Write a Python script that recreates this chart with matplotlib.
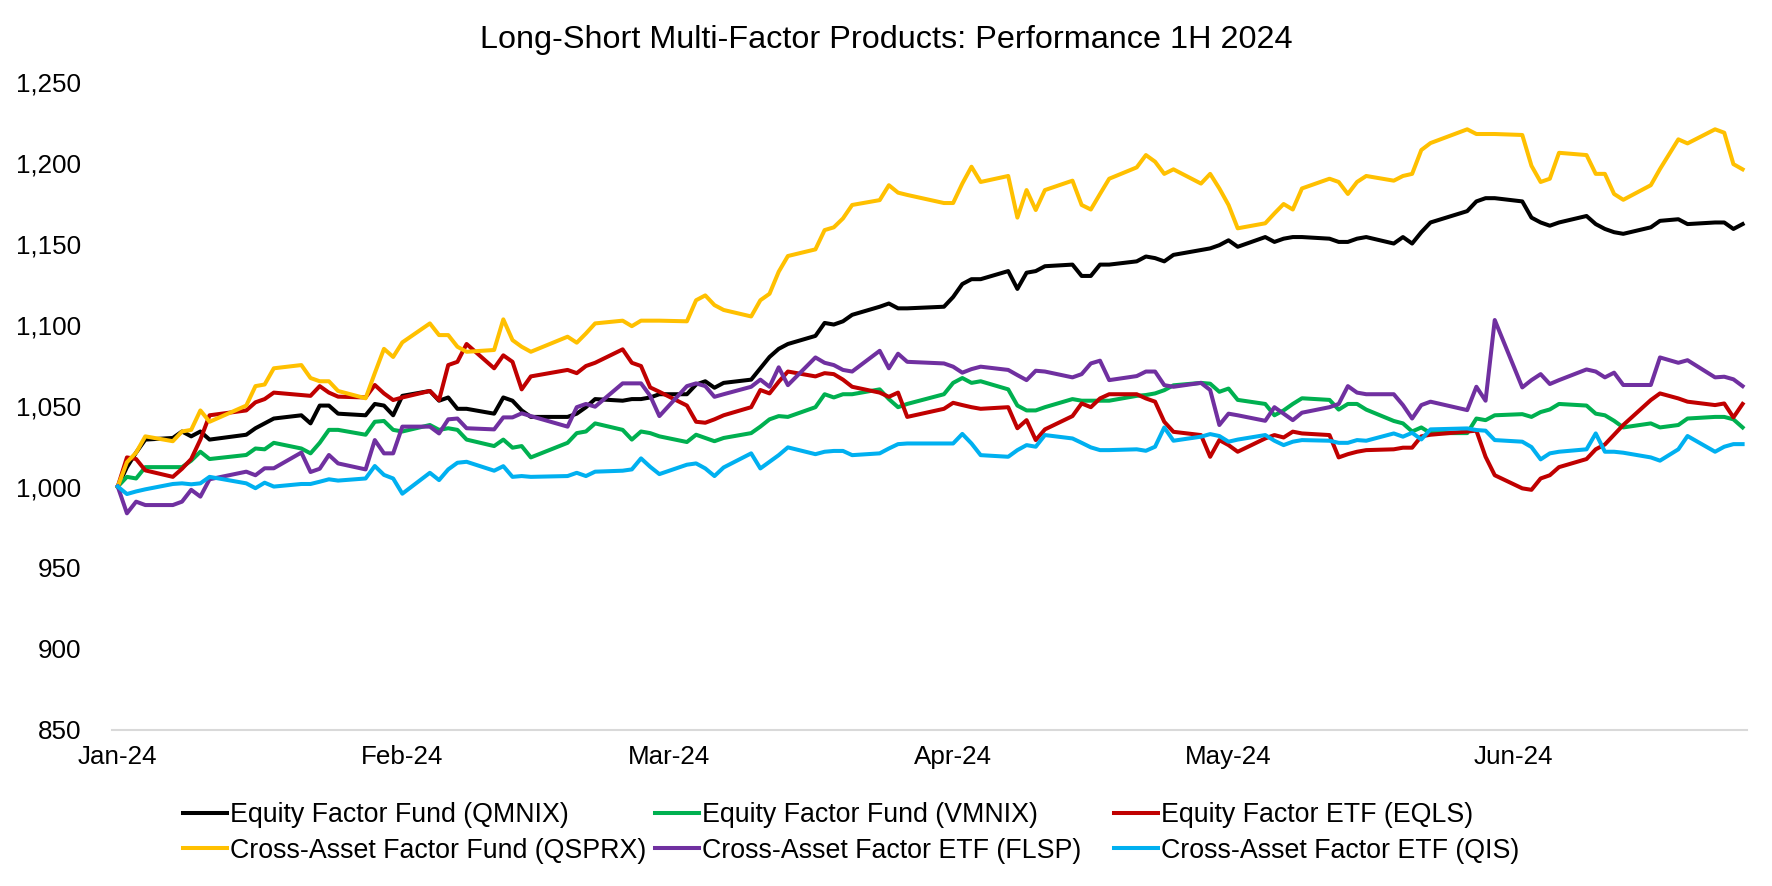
import matplotlib
matplotlib.use("Agg")
import matplotlib.pyplot as plt
import matplotlib.dates as mdates
from matplotlib.ticker import FuncFormatter
import pandas as pd

# trading days per month (2024)
jan_days = [2, 3, 4, 5, 8, 9, 10, 11, 12, 16, 17, 18, 19, 22, 23, 24, 25, 26, 29, 30, 31]
feb_days = [1, 2, 5, 6, 7, 8, 9, 12, 13, 14, 15, 16, 20, 21, 22, 23, 26, 27, 28, 29]
mar_days = [1, 4, 5, 6, 7, 8, 11, 12, 13, 14, 15, 18, 19, 20, 21, 22, 25, 26, 27, 28]
apr_days = [1, 2, 3, 4, 5, 8, 9, 10, 11, 12, 15, 16, 17, 18, 19, 22, 23, 24, 25, 26, 29, 30]
may_days = [1, 2, 3, 6, 7, 8, 9, 10, 13, 14, 15, 16, 17, 20, 21, 22, 23, 24, 28, 29, 30, 31]
jun_days = [3, 4, 5, 6, 7, 10, 11, 12, 13, 14, 17, 18, 20, 21, 24, 25, 26, 27]

qmnix = [1000, 1012, 1021, 1029, 1030, 1034, 1031, 1034, 1029, 1032, 1036, 1039, 1042, 1044, 1039, 1050, 1050, 1045, 1044, 1051, 1050,
         1044, 1056, 1059, 1053, 1055, 1048, 1048, 1045, 1055, 1053, 1047, 1043, 1043, 1045, 1049, 1054, 1053, 1054, 1054, 1055,
         1057, 1057, 1063, 1065, 1061, 1064, 1066, 1073, 1080, 1085, 1088, 1093, 1101, 1100, 1102, 1106, 1111, 1113, 1110, 1110,
         1111, 1117, 1125, 1128, 1128, 1133, 1122, 1132, 1133, 1136, 1137, 1130, 1130, 1137, 1137, 1139, 1142, 1141, 1139, 1143, 1146, 1147,
         1149, 1152, 1148, 1154, 1151, 1153, 1154, 1154, 1153, 1151, 1151, 1153, 1154, 1150, 1154, 1150, 1157, 1163, 1170, 1176, 1178, 1178,
         1176, 1166, 1163, 1161, 1163, 1167, 1162, 1159, 1157, 1156, 1160, 1164, 1165, 1162, 1163, 1163, 1159, 1162]

vmnix = [1000, 1006, 1005, 1012, 1012, 1012, 1016, 1021.5, 1017, 1019.5, 1023.5, 1023, 1027, 1023.5, 1020.5, 1027, 1035, 1035, 1032, 1040, 1040.5,
         1035, 1034, 1038, 1035, 1036, 1035, 1029, 1025, 1029, 1024, 1025, 1018, 1027, 1033, 1034, 1039, 1035, 1029, 1034, 1033,
         1031, 1027.5, 1032, 1030, 1028, 1030, 1033, 1037, 1041.5, 1043.5, 1043, 1049, 1057, 1055, 1057, 1057, 1060, 1054, 1049, 1051,
         1057, 1064, 1067, 1064, 1065, 1060, 1050, 1047, 1047, 1049, 1054, 1053, 1053, 1053, 1053, 1056, 1056.5, 1057.5, 1059.5, 1062.5, 1064, 1063.5,
         1058.5, 1060.5, 1053.5, 1051, 1044, 1047, 1051, 1054.5, 1053.5, 1047.5, 1051, 1051, 1047.5, 1040.5, 1039, 1034, 1036.5, 1033, 1033, 1042, 1041, 1044,
         1044.7, 1043, 1046, 1047.6, 1051, 1050, 1045, 1044, 1040.6, 1036.5, 1039, 1036.5, 1038, 1042, 1043, 1043, 1041.5, 1036.5]

eqls = [1000, 1018, 1017, 1010, 1006, 1011, 1017, 1029, 1044, 1047, 1052, 1054, 1058, 1056.5, 1056, 1062, 1058, 1055.5, 1055, 1062.7, 1057.5,
        1053.4, 1055, 1059, 1053.4, 1075, 1077, 1088, 1073, 1081, 1077, 1060, 1068, 1072, 1070, 1074.4, 1076.4, 1084.7, 1076.4, 1074.4, 1061.2,
        1058.5, 1050, 1040, 1039.4, 1041.5, 1044, 1049, 1059.6, 1057.5, 1064.7, 1071, 1068, 1070, 1069.4, 1066, 1061.6, 1058, 1055.4, 1058, 1043,
        1048, 1051.7, 1050.3, 1049, 1048, 1049, 1036, 1041, 1028.7, 1035.3, 1043.5, 1051.3, 1049, 1054.4, 1057, 1057, 1054.4, 1052.4, 1040, 1033.8, 1031.8, 1018.4,
        1028.7, 1025.6, 1021.5, 1029.7, 1031.8, 1030.3, 1033.9, 1032.8, 1031.8, 1018, 1020, 1021.5, 1022.5, 1023, 1024, 1024, 1031, 1032, 1034, 1034.5, 1018.4, 1007,
        998.9, 998, 1005, 1007, 1012, 1017, 1023, 1026, 1032, 1038, 1053.4, 1057.5, 1054.4, 1052.4, 1050.3, 1051.3, 1042.7, 1051]

qsprx = [1000, 1015, 1021, 1031, 1028, 1034, 1035, 1047, 1040, 1050, 1062, 1063, 1073, 1075, 1067, 1065, 1065, 1059, 1054.5, 1070, 1085,
         1080, 1089, 1100.7, 1093.5, 1093.5, 1086.3, 1083.2, 1084.3, 1103.2, 1090.4, 1086.3, 1083.2, 1092.5, 1088.8, 1094.5, 1100.7, 1102.4, 1099, 1102.4, 1102.4,
         1102.4, 1102, 1115, 1118, 1112, 1109, 1105, 1115, 1119, 1132.6, 1142.3, 1146.4, 1158.3, 1160, 1165.5, 1173.8, 1176.8, 1186, 1181.4, 1180,
         1175, 1175, 1187, 1197.4, 1188, 1191.7, 1166, 1183, 1170.7, 1183, 1188.8, 1173.8, 1171, 1180.6, 1190, 1197, 1204.6, 1200.5, 1193, 1195.8, 1187, 1193,
         1184, 1173.8, 1159.4, 1162.5, 1168.6, 1174.4, 1171, 1184, 1190, 1188, 1180.6, 1188, 1191.7, 1188.8, 1191.7, 1193, 1207.7, 1212, 1220.5, 1217.6, 1217.6, 1217.6,
         1217, 1198, 1188, 1190, 1206, 1204.6, 1193, 1193, 1180.6, 1177, 1186, 1196, 1214.3, 1211.8, 1220.5, 1218.4, 1199, 1195.8]

flsp = [1000, 983.5, 990.7, 988.6, 988.6, 990.7, 998, 993.8, 1004.5, 1009.2, 1007, 1011.3, 1011.3, 1021, 1009, 1011, 1019.5, 1014.3, 1010.6, 1028.7, 1020.5,
        1020.5, 1037, 1037, 1032.8, 1041.5, 1042, 1036, 1035.3, 1042.7, 1042.7, 1045.2, 1043.5, 1037, 1049, 1051, 1049.3, 1063.7, 1063.7, 1063.7, 1056,
        1043.5, 1062, 1063.7, 1062, 1055.4, 1057, 1061.6, 1066, 1061.6, 1073.6, 1062.6, 1079.7, 1076.4, 1075, 1072, 1071, 1083.8, 1073, 1082, 1077,
        1076, 1074, 1070.3, 1072.5, 1074, 1072, 1068.8, 1065.7, 1071.5, 1071, 1067.4, 1069.4, 1076, 1077.7, 1065.7, 1068.2, 1071, 1071, 1062.6, 1061.6, 1064, 1059.6,
        1038, 1045, 1044, 1040.6, 1049, 1045, 1041, 1045.6, 1049, 1051, 1062, 1058, 1057, 1057, 1050.3, 1042, 1050.3, 1052.4, 1047.2, 1061.6, 1053, 1102.8,
        1061.2, 1065.7, 1069.4, 1063.3, 1065.7, 1072.3, 1071, 1067.4, 1070.3, 1062.7, 1062.7, 1079.7, 1076.4, 1078, 1067.4, 1067.8, 1066.2, 1062]

qis = [1000, 995.4, 997, 998.3, 1001.6, 1002, 1001.4, 1002, 1006, 1002, 999, 1002.4, 1000, 1001.6, 1001.6, 1003, 1004.5, 1003.7, 1005, 1012.7, 1007.2,
       1005, 995.6, 1008.5, 1004, 1010.6, 1014.7, 1015.3, 1009.8, 1012.6, 1006, 1006.5, 1006, 1006.5, 1008.5, 1006.5, 1009.2, 1009.8, 1010.6, 1017.4, 1012.2,
       1007.7, 1013.5, 1014.3, 1011.2, 1006.5, 1011.8, 1020.5, 1011.2, 1015.3, 1019.4, 1024.2, 1020, 1021.5, 1022, 1022, 1019.4, 1020.5, 1023.5, 1026.2, 1026.6,
       1026.6, 1026.6, 1032.5, 1026.6, 1019.4, 1018.4, 1022.5, 1025.6, 1024.6, 1031.8, 1029.7, 1027, 1024.2, 1022.5, 1022.5, 1023, 1022.1, 1024.6, 1036.5, 1028.3, 1030.8, 1032.4,
       1031.2, 1027.7, 1029, 1031.8, 1028.3, 1025.6, 1027.7, 1028.7, 1028.3, 1027, 1027, 1028.7, 1028.3, 1032.8, 1030.8, 1033.2, 1029.1, 1035.3, 1035.9, 1034.9, 1034.5, 1028.7,
       1027.7, 1024.4, 1016.8, 1020.5, 1021.5, 1023, 1032.8, 1021.5, 1021.5, 1020.9, 1018, 1016, 1023, 1031.2, 1021.5, 1024.6, 1026.2, 1026.2]

labels = ["Equity Factor Fund (QMNIX)", "Equity Factor Fund (VMNIX)", "Equity Factor ETF (EQLS)",
          "Cross-Asset Factor Fund (QSPRX)", "Cross-Asset Factor ETF (FLSP)", "Cross-Asset Factor ETF (QIS)"]
colors = ["#000000", "#00B050", "#C00000", "#FFC000", "#7030A0", "#00B0F0"]
y_ticks = [850, 900, 950, 1000, 1050, 1100, 1150, 1200, 1250]

month_days = [jan_days, feb_days, mar_days, apr_days, may_days, jun_days]
dates = [pd.Timestamp(2024, m, d) for m, days in enumerate(month_days, start=1) for d in days]
series = [qmnix, vmnix, eqls, qsprx, flsp, qis]

plt.rcParams['font.family'] = ['Liberation Sans', 'DejaVu Sans']

fig = plt.figure(figsize=(17.72, 8.86), dpi=100)
ax = fig.add_axes([0.0630, 0.1765, 0.9230, 0.7315])

handles = []
for vals, lab, col in zip(series, labels, colors):
    h, = ax.plot(dates, vals, color=col, linewidth=2.9, label=lab)
    handles.append(h)

ax.set_ylim(850, 1250)
ax.set_yticks(y_ticks)
ax.yaxis.set_major_formatter(FuncFormatter(lambda v, p: f"{v:,.0f}"))
ax.set_xlim(pd.Timestamp(2024, 1, 1, 8), pd.Timestamp(2024, 6, 27, 12))
ax.set_xticks([pd.Timestamp(2024, m, 2) for m in range(1, 7)])
ax.xaxis.set_major_formatter(mdates.DateFormatter('%b-%y'))

for s in ['top', 'right', 'left']:
    ax.spines[s].set_visible(False)
ax.spines['bottom'].set_color('#D9D9D9')
ax.spines['bottom'].set_linewidth(1.5)
ax.tick_params(axis='both', length=0, labelsize=18.7)
ax.tick_params(axis='y', pad=22)
ax.tick_params(axis='x', pad=11)

fig.text(0.5, 0.946, "Long-Short Multi-Factor Products: Performance 1H 2024",
         fontsize=23.3, ha='center', va='baseline')

# legend: 3 columns, 2 rows (row-major order as in the reference)
col_x = [0.1033, 0.3696, 0.6285]
for c in range(3):
    fig.legend([handles[c], handles[c + 3]], [labels[c], labels[c + 3]],
               loc='center left', bbox_to_anchor=(col_x[c], 0.0598), frameon=False,
               fontsize=19.3, handlelength=1.64, handletextpad=0.11,
               labelspacing=0.36, borderpad=0, borderaxespad=0)

fig.savefig("out.png", dpi=100)
